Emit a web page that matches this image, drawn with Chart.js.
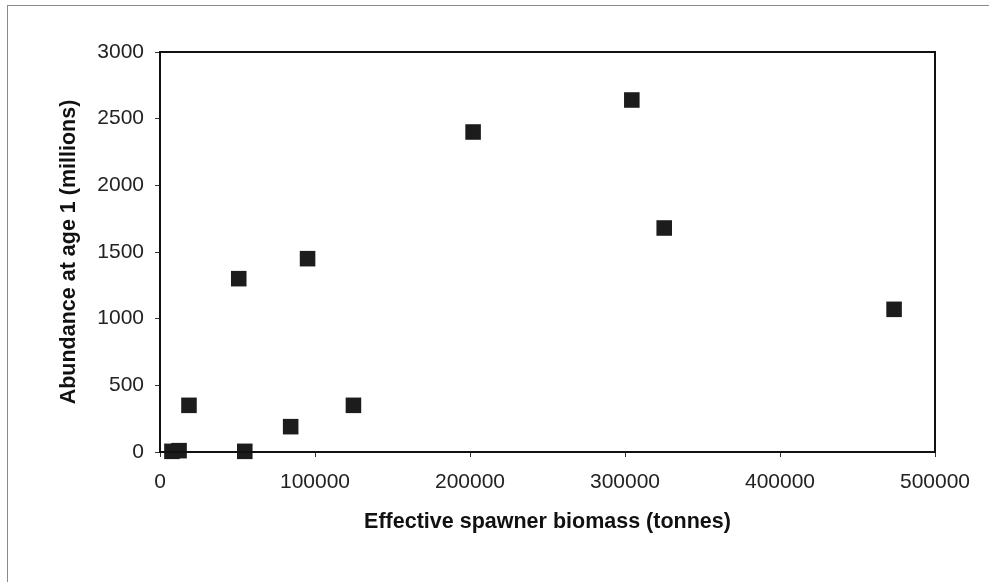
<!DOCTYPE html>
<html>
<head>
<meta charset="utf-8">
<script src="https://cdn.jsdelivr.net/npm/chart.js@4.4.1/dist/chart.umd.min.js"></script>
<style>
    html, body { margin: 0; padding: 0; background: #fff; }
    #wrap { position: relative; width: 989px; height: 582px; overflow: hidden; }
    #frame { position: absolute; left: 7px; top: 5px; width: 1000px; height: 600px;
             border-left: 1px solid #8a8a8a; border-top: 1px solid #8a8a8a; }
    canvas { position: absolute; left: 0; top: 0; }
</style>
</head>
<body>
<div id="wrap">
    <div id="frame"></div>
    <canvas id="scatterChart" width="989" height="582"></canvas>
</div>
<script>
// values
const spawnerBiomass = [7700, 12300, 18700, 50800, 54700, 84300, 95200, 124800, 202000, 304400, 325300, 473600];
const abundanceAge1 = [5, 10, 350, 1300, 5, 190, 1450, 350, 2400, 2640, 1680, 1070];
const xTitle = "Effective spawner biomass (tonnes)";
const yTitle = "Abundance at age 1 (millions)";

const points = spawnerBiomass.map((x, i) => ({ x: x, y: abundanceAge1[i] }));

// box around the plot area
const boxPlugin = {
    id: 'plotBox',
    afterDraw(chart) {
        const a = chart.chartArea;
        const ctx = chart.ctx;
        ctx.save();
        ctx.strokeStyle = '#111';
        ctx.lineWidth = 2;
        ctx.strokeRect(a.left, a.top, a.right - a.left, a.bottom - a.top);
        ctx.restore();
    }
};

const font = "'Liberation Sans', Arial, sans-serif";

new Chart(document.getElementById('scatterChart'), {
    type: 'scatter',
    data: {
        datasets: [{
            data: points,
            pointStyle: 'rect',
            pointRadius: 11,
            pointHoverRadius: 11,
            backgroundColor: '#1c1c1c',
            borderColor: '#1c1c1c',
            borderWidth: 0,
            clip: false
        }]
    },
    options: {
        responsive: false,
        animation: false,
        devicePixelRatio: 1,
        layout: { padding: { top: 52, right: 54, left: 0, bottom: 0 } },
        plugins: {
            legend: { display: false },
            tooltip: { enabled: false }
        },
        scales: {
            x: {
                type: 'linear',
                min: 0,
                max: 500000,
                afterFit: (scale) => { scale.height = 130; },
                ticks: {
                    stepSize: 100000,
                    padding: 13,
                    color: '#222',
                    maxRotation: 0,
                    font: { family: font, size: 21 },
                    callback: (v) => String(v)
                },
                grid: { drawOnChartArea: false, drawTicks: true, tickLength: 5, color: '#333' },
                border: { display: true, color: '#111', width: 2 },
                title: {
                    display: true,
                    text: xTitle,
                    color: '#111',
                    font: { family: font, size: 21.5, weight: 'bold' },
                    padding: { top: 0, bottom: 47 }
                }
            },
            y: {
                type: 'linear',
                min: 0,
                max: 3000,
                afterFit: (scale) => { scale.width = 160; },
                ticks: {
                    stepSize: 500,
                    padding: 11,
                    color: '#222',
                    font: { family: font, size: 21 },
                    callback: (v) => String(v)
                },
                grid: { drawOnChartArea: false, drawTicks: true, tickLength: 5, color: '#333' },
                border: { display: true, color: '#111', width: 2 },
                title: {
                    display: true,
                    text: yTitle,
                    color: '#111',
                    font: { family: font, size: 21.5, weight: 'bold' },
                    padding: { top: 56, bottom: 0 }
                }
            }
        }
    },
    plugins: [boxPlugin]
});
</script>
</body>
</html>
